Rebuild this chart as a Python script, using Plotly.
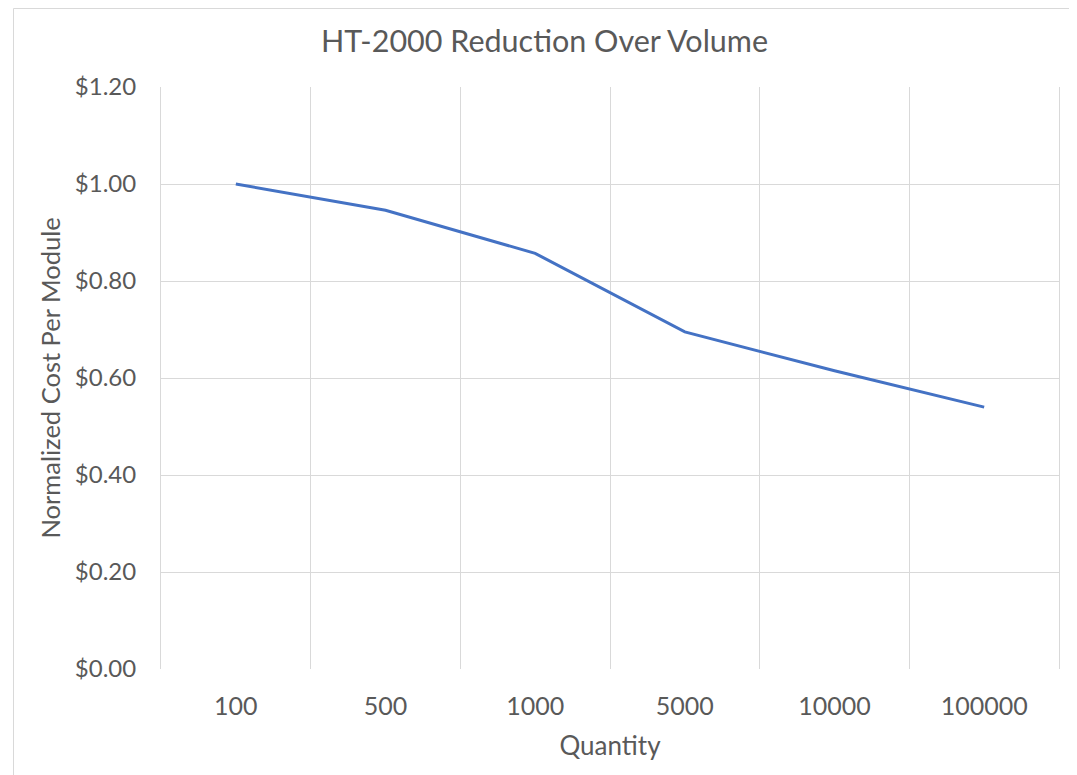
import plotly.graph_objects as go

quantities = ["100", "500", "1000", "5000", "10000", "100000"]
cost_per_module = [1.00, 0.946, 0.857, 0.695, 0.615, 0.540]
y_ticks = [0, 0.2, 0.4, 0.6, 0.8, 1.0, 1.2]

# page body has an 8px margin, so the figure is sized to fit the window
W, H = 1069, 767
L, R, T, B = 153, 18, 79, 106
FONT = "Lato"
TXT = "#595959"
GRID = "#d9d9d9"

fig = go.Figure()
fig.add_trace(go.Scatter(
    x=quantities, y=cost_per_module, mode="lines",
    line=dict(color="#4472C4", width=3), hoverinfo="x+y",
))

pw = W - L - R
ph = H - T - B
fig.add_shape(type="rect", xref="paper", yref="paper",
              x0=(5.5 - L) / pw, x1=(1067.5 - L) / pw,
              y0=(H - B - 790) / ph, y1=(H - B - 0.5) / ph,
              line=dict(color=GRID, width=1), fillcolor="rgba(0,0,0,0)", layer="below")

# y-axis title placed as a rotated annotation for exact positioning
fig.add_annotation(text="Normalized Cost Per Module", xref="paper", yref="paper",
                   x=(41.5 - L) / pw, y=0.5, xanchor="center", yanchor="middle",
                   textangle=-90, showarrow=False,
                   font=dict(size=25.5, color=TXT, family=FONT))

fig.update_layout(
    width=W, height=H,
    margin=dict(l=L, r=R, t=T, b=B, autoexpand=False),
    paper_bgcolor="white", plot_bgcolor="white",
    showlegend=False,
    font=dict(family=FONT, color=TXT),
    title=dict(text="HT-2000 Reduction Over Volume", xref="container", x=536.5 / W,
               xanchor="center", yref="container", y=1 - 33 / H, yanchor="middle",
               font=dict(size=30.5, color=TXT, family=FONT)),
    xaxis=dict(type="category", tickson="boundaries", range=[-0.5, 5.5], showgrid=True,
               gridcolor=GRID, gridwidth=1, ticks="", showline=False, zeroline=False,
               automargin=False,
               tickfont=dict(size=25, color=TXT), ticklabelstandoff=20,
               title=dict(text="Quantity", font=dict(size=26, color=TXT), standoff=17)),
    yaxis=dict(range=[0, 1.2], tickvals=y_ticks, tickformat="$.2f", showgrid=True,
               gridcolor=GRID, gridwidth=1, zeroline=False, ticks="",
               showline=True, mirror=True, linecolor=GRID, linewidth=1,
               automargin=False,
               tickfont=dict(size=24, color=TXT), ticklabelstandoff=19),
)

fig.write_html("out.html")
